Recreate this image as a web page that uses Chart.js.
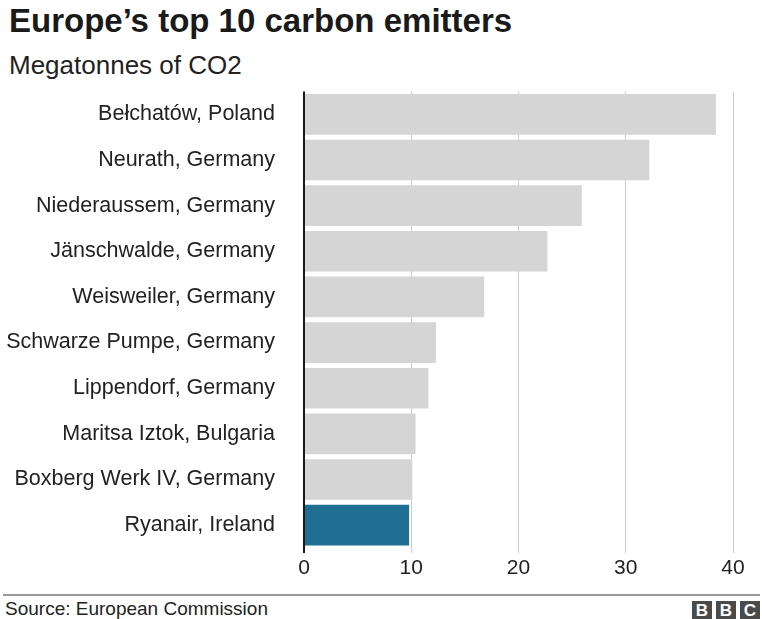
<!DOCTYPE html>
<html>
<head>
<meta charset="utf-8">
<script src="https://cdn.jsdelivr.net/npm/chart.js@4/dist/chart.umd.min.js"></script>
<style>
  body { margin: 0; background: #fff; font-family: "Liberation Sans", Arial, sans-serif; color: #222; }
  #wrap { position: relative; width: 762px; height: 619px; overflow: hidden; }
  #title { position: absolute; left: 9px; top: 2px; font-size: 33px; font-weight: bold; color: #1a1a1a; white-space: nowrap; }
  #sub { position: absolute; left: 9px; top: 50px; font-size: 26px; color: #222; white-space: nowrap; }
  #box { position: absolute; left: 0; top: 77px; width: 762px; height: 510px; }
  #rule { position: absolute; left: 3px; top: 594px; width: 757px; height: 2px; background: #9a9a9a; }
  #src { position: absolute; left: 5px; top: 598px; font-size: 19px; color: #222; white-space: nowrap; }
  .b { position: absolute; top: 601px; width: 20px; height: 18px; background: #4a4a4a; color: #fff;
       font: bold 17px "Liberation Sans", Arial, sans-serif; text-align: center; line-height: 19px; }
</style>
</head>
<body>
<div id="wrap">
  <div id="title">Europe’s top 10 carbon emitters</div>
  <div id="sub">Megatonnes of CO2</div>
  <div id="box"><canvas id="myChart"></canvas></div>
  <div id="rule"></div>
  <div id="src">Source: European Commission</div>
  <div class="b" style="left:692px">B</div>
  <div class="b" style="left:716px">B</div>
  <div class="b" style="left:740px">C</div>
</div>
<script>
// plants and their emissions (megatonnes CO2)
var plants = ["Bełchatów, Poland", "Neurath, Germany", "Niederaussem, Germany", "Jänschwalde, Germany",
    "Weisweiler, Germany", "Schwarze Pumpe, Germany", "Lippendorf, Germany", "Maritsa Iztok, Bulgaria",
    "Boxberg Werk IV, Germany", "Ryanair, Ireland"];
var emissions = [38.4, 32.2, 25.9, 22.7, 16.8, 12.3, 11.6, 10.4, 10.1, 9.8];
var xTicks = [0, 10, 20, 30, 40];

var barColors = [];
for (var i = 0; i < plants.length; i++) {
    if (plants[i].indexOf("Ryanair") == 0) barColors.push("#206f92");
    else barColors.push("#d5d5d5");
}

new Chart("myChart", {
    type: "bar",
    data: {
        labels: plants,
        datasets: [{
            data: emissions,
            backgroundColor: barColors,
            barPercentage: 0.89,
            categoryPercentage: 1
        }]
    },
    options: {
        indexAxis: "y",
        responsive: true,
        maintainAspectRatio: false,
        animation: false,
        events: [],
        layout: { padding: { top: 14.5, right: 29, left: 0, bottom: 0 } },
        plugins: { legend: { display: false }, tooltip: { enabled: false } },
        scales: {
            x: {
                min: 0,
                max: 40,
                afterBuildTicks: function (s) { s.ticks = xTicks.map(function (v) { return { value: v }; }); },
                afterFit: function (s) { s.height = 39; },
                border: { display: false },
                grid: {
                    color: function (c) { return c.tick && c.tick.value === 0 ? "#1a1a1a" : "#cccccc"; },
                    lineWidth: function (c) { return c.tick && c.tick.value === 0 ? 2 : 1; },
                    tickLength: 5
                },
                ticks: { color: "#222", padding: 3, font: { family: "Liberation Sans", size: 21 } }
            },
            y: {
                afterFit: function (s) { s.width = 304; },
                border: { display: false },
                // hidden tick marks only used to push labels away from the axis
                grid: { display: false, drawTicks: true, tickLength: 29 },
                ticks: { color: "#222", padding: 0, font: { family: "Liberation Sans", size: 21.5 } }
            }
        }
    }
});
</script>
</body>
</html>
